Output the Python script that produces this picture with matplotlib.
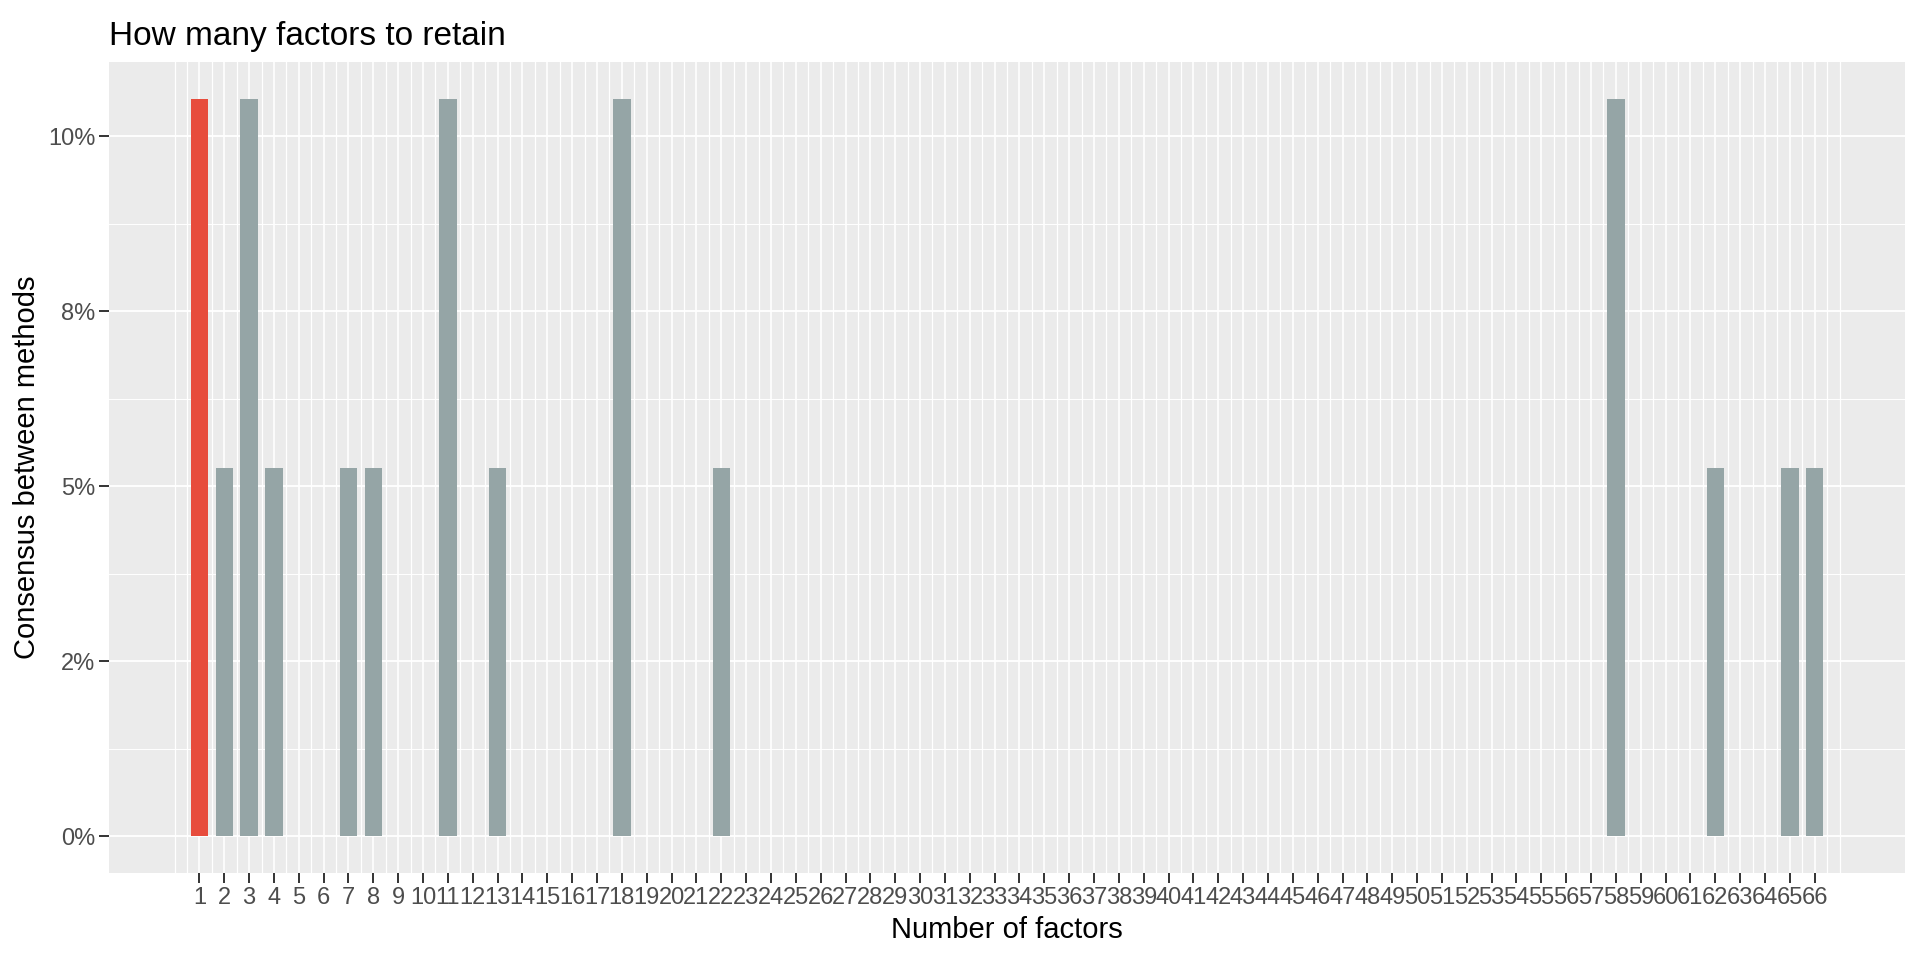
import matplotlib.pyplot as plt
import numpy as np

# factors that got at least one vote, and the share of methods voting for them
n_factors = [1, 2, 3, 4, 7, 8, 11, 13, 18, 22, 58, 62, 65, 66]
consensus = [0.1053, 0.0526, 0.1053, 0.0526, 0.0526, 0.0526, 0.1053,
             0.0526, 0.1053, 0.0526, 0.1053, 0.0526, 0.0526, 0.0526]
tick_labels = [str(i) for i in range(1, 67)]
y_breaks = [0, 0.025, 0.05, 0.075, 0.10]
y_labels = ['0%', '2%', '5%', '8%', '10%']
best = 1

RED = '#E74C3C'
GREY = '#95A5A6'
BG = '#EBEBEB'

plt.rcParams['font.family'] = ['Liberation Sans', 'DejaVu Sans']

fig = plt.figure(figsize=(19.2, 9.6), dpi=100)
ax = fig.add_axes([0.0568, 0.0906, 0.9354, 0.8448])
ax.set_facecolor(BG)
for s in ax.spines.values():
    s.set_visible(False)

# grid, drawn by hand so it looks like the ggplot one
for x in np.arange(0, 67.01, 0.5):
    major = float(x).is_integer() and 1 <= x <= 66
    ax.axvline(x, color='white', lw=1.2 if major else 0.9, zorder=0)
for y in y_breaks:
    ax.axhline(y, color='white', lw=1.3, zorder=0)
for y in np.arange(0.0125, 0.11, 0.025):
    ax.axhline(y, color='white', lw=0.7, zorder=0)

colors = [RED if n == best else GREY for n in n_factors]
ax.bar(n_factors, consensus, width=0.7, color=colors, zorder=2)

ax.set_xlim(-2.635, 69.635)
ax.set_ylim(-0.00527, 0.1106)
ax.set_xticks(range(1, 67))
ax.set_xticklabels(tick_labels)
ax.set_yticks(y_breaks)
ax.set_yticklabels(y_labels)
ax.tick_params(axis='both', colors='#333333', length=7, width=1.4,
               labelsize=17, labelcolor='#4D4D4D', pad=3)

ax.set_xlabel('Number of factors', fontsize=21, labelpad=5)
ax.set_ylabel('Consensus between methods', fontsize=21, labelpad=5)
ax.set_title('How many factors to retain', fontsize=24, loc='left', pad=12)

fig.savefig('out.png', dpi=100, facecolor='white')
